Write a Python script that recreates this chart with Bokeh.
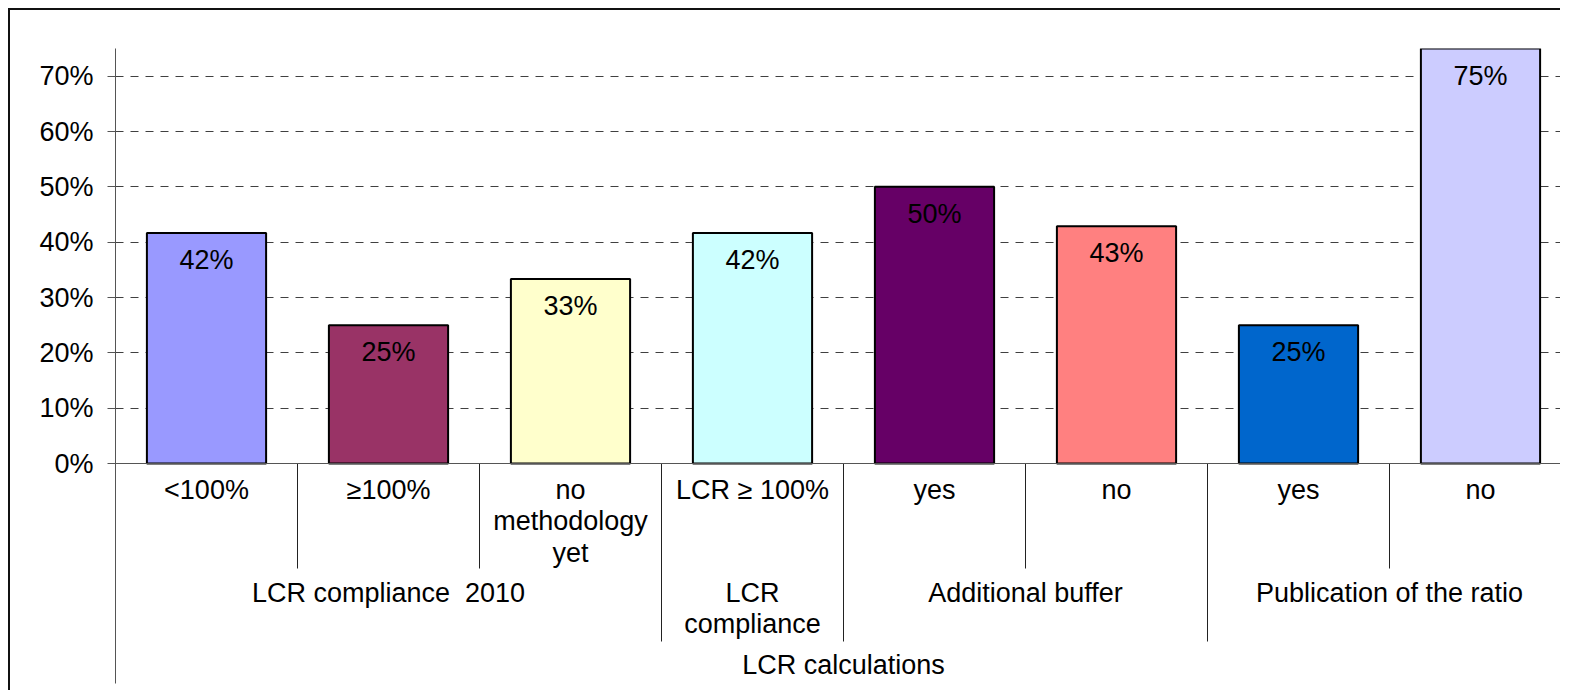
from bokeh.plotting import figure
from bokeh.models import Range1d, FixedTicker, NumeralTickFormatter, Span
from bokeh.core.properties import value
from bokeh.embed import file_html
from bokeh.resources import INLINE

# ---- data ----
categories = ["<100%", "≥100%", "no\nmethodology\nyet", "LCR ≥ 100%", "yes", "no", "yes", "no"]
values = [0.4167, 0.25, 0.3333, 0.4167, 0.50, 0.4286, 0.25, 0.75]
value_labels = ["42%", "25%", "33%", "42%", "50%", "43%", "25%", "75%"]
bar_colors = ["#9999FF", "#993366", "#FFFFCC", "#CCFFFF", "#660066", "#FF8080", "#0066CC", "#CCCCFF"]
groups = ["LCR compliance\u00a0 2010", "LCR\ncompliance", "Additional buffer", "Publication of the ratio"]
group_sizes = [3, 1, 2, 2]
top_group = "LCR calculations"
y_ticks = [0.0, 0.1, 0.2, 0.3, 0.4, 0.5, 0.6, 0.7]

# ---- layout constants ----
FONT = "Liberation Sans"
FS = "27px"
W, H = 1554, 684
LEFT, TOP, BOTTOM = 105, 38, 9
Y_MAX = 0.75
PX_PER_UNIT = 415 / Y_MAX          # frame pixels per data unit
frame_h = H - 2 - TOP - BOTTOM
y_min = Y_MAX - frame_h / PX_PER_UNIT
frame_w = W - 2 - LEFT
x_max = frame_w / 182.0

p = figure(width=W - 2, height=H - 2, output_backend="svg", toolbar_location=None,
           x_range=Range1d(0, x_max), y_range=Range1d(y_min, Y_MAX),
           x_axis_location=None, min_border_left=LEFT, min_border_top=TOP,
           min_border_bottom=BOTTOM, min_border_right=0)
p.styles = {"border-top": "2px solid #111111", "border-left": "2px solid #111111",
            "margin-left": "8px", "margin-top": "8px"}
p.outline_line_color = None
p.background_fill_color = "white"
p.border_fill_color = "white"

# y axis
ax = p.yaxis[0]
ax.ticker = FixedTicker(ticks=y_ticks)
ax.formatter = NumeralTickFormatter(format="0%")
ax.axis_line_color = "#555555"
ax.major_tick_line_color = "#555555"
ax.major_tick_out = 8
ax.major_tick_in = 0
ax.minor_tick_line_color = None
ax.major_label_text_font = FONT
ax.major_label_text_font_size = FS
ax.major_label_text_color = "black"
ax.major_label_standoff = 14

p.xgrid.visible = False
p.ygrid.ticker = FixedTicker(ticks=y_ticks[1:])
p.ygrid.grid_line_color = "#404040"
p.ygrid.grid_line_dash = "8 7"
p.ygrid.grid_line_width = 1

# bars
xs = [i + 0.5 for i in range(len(categories))]
p.vbar(x=xs, top=values, bottom=0, width=0.655, fill_color=bar_colors,
       line_color="black", line_width=2)

# x axis line
p.add_layout(Span(location=0, dimension="width", line_color="#555555", line_width=1))

# data labels
p.text(x=xs, y=values, text=value_labels, text_align="center", text_baseline="middle",
       y_offset=27, text_font=value(FONT), text_font_size=FS, text_color="black")

# category labels (level 1)
p.text(x=xs, y=[0] * len(xs), text=categories, text_align="center", text_baseline="top",
       y_offset=11, text_font=value(FONT), text_font_size=FS, text_color="black",
       text_line_height=1.05)

# dividers
edges = []
acc = 0
for s in group_sizes:
    acc += s
    edges.append(acc)
d1 = -105 / PX_PER_UNIT
d2 = -178 / PX_PER_UNIT
bx = [k for k in range(1, len(categories))]
by1 = [d2 if k in edges else d1 for k in bx]
p.segment(x0=bx, y0=[0] * len(bx), x1=bx, y1=by1, line_color="#222222", line_width=1)

# group labels (level 2)
gx = []
start = 0
for s in group_sizes:
    gx.append(start + s / 2)
    start += s
p.text(x=gx, y=[0] * len(gx), text=groups, text_align="center", text_baseline="top",
       y_offset=114, text_font=value(FONT), text_font_size=FS, text_color="black",
       text_line_height=1.05)

# top level label
p.text(x=[len(categories) / 2], y=[0], text=[top_group], text_align="center",
       text_baseline="top", y_offset=186, text_font=value(FONT), text_font_size=FS,
       text_color="black")

open("out.html", "w").write(file_html(p, INLINE))
